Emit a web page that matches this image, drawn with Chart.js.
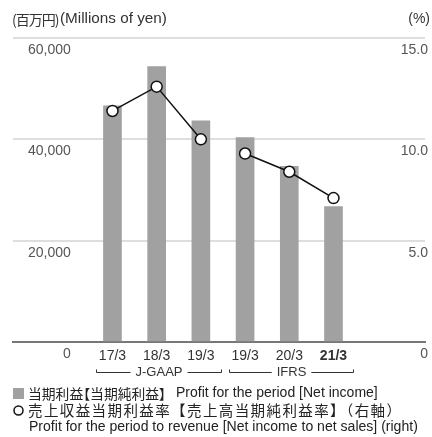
<!DOCTYPE html>
<html>
<head>
<meta charset="utf-8">
<script src="https://cdn.jsdelivr.net/npm/chart.js@4"></script>
<style>
html,body{margin:0;padding:0;background:#fff;}
#wrap{position:relative;width:432px;height:437px;overflow:hidden;}
#c{position:absolute;left:0;top:0;}
.jp{position:absolute;font-family:"Noto Sans CJK JP",sans-serif;color:#222;white-space:nowrap;line-height:20px;height:20px;}
</style>
</head>
<body>
<div id="wrap">
<canvas id="c" width="432" height="437"></canvas>
<span class="jp" style="left:12px;top:9px;font-size:14px;letter-spacing:-1px;color:#333;">(百万円)</span>
<span class="jp" style="left:28px;top:383px;font-size:13.8px;font-feature-settings:'palt';">当期利益【当期純利益】</span>
<span class="jp" style="left:28px;top:400px;font-size:14.5px;letter-spacing:1.4px;">売上収益当期利益率【売上高当期純利益率】（右軸）</span>
</div>
<script>
const categories = ["17/3", "18/3", "19/3", "19/3", "20/3", "21/3"];
const netIncome = [46600, 54350, 43650, 40350, 34650, 26750];
const incomeRatio = [11.4, 12.6, 10.0, 9.3, 8.4, 7.1];
const leftTicks = [0, 20000, 40000, 60000];
const rightTicks = [0, 5, 10, 15];
const groups = [
  {label: "J-GAAP", from: 0, to: 2},
  {label: "IFRS", from: 3, to: 5}
];

const FONT = '"Liberation Sans", "Noto Sans CJK JP", sans-serif';

function fitText(ctx, text, x, y, target, base, fam) {
  ctx.font = base + 'px ' + fam;
  const w = ctx.measureText(text).width;
  const size = Math.max(8, Math.min(20, base * target / w));
  ctx.font = size.toFixed(2) + 'px ' + fam;
  ctx.fillText(text, x, y);
}

const overlay = {
  id: 'overlay',
  afterDraw(chart) {
    const ctx = chart.ctx;
    const x = chart.scales.x;
    ctx.save();
    ctx.fillStyle = '#333';
    ctx.textBaseline = 'middle';
    ctx.textAlign = 'left';
    fitText(ctx, '(Millions of yen)', 60, 19, 107, 14, FONT);
    ctx.textAlign = 'right';
    ctx.font = '14px ' + FONT;
    ctx.fillText('(%)', 430, 19);

    // group brackets
    ctx.strokeStyle = '#333';
    ctx.lineWidth = 1;
    ctx.font = '13px ' + FONT;
    ctx.textAlign = 'center';
    const yb = 372.5;
    groups.forEach(g => {
      const x0 = Math.round(x.getPixelForValue(g.from) - 16) + 0.5;
      const x1 = Math.round(x.getPixelForValue(g.to) + 20) + 0.5;
      const mid = (x0 + x1) / 2;
      const tw = ctx.measureText(g.label).width;
      ctx.beginPath();
      ctx.moveTo(x0, yb - 3); ctx.lineTo(x0, yb); ctx.lineTo(mid - tw / 2 - 5, yb);
      ctx.moveTo(mid + tw / 2 + 5, yb); ctx.lineTo(x1, yb); ctx.lineTo(x1, yb - 3);
      ctx.stroke();
      ctx.fillText(g.label, mid, yb);
    });

    // legend markers and latin texts
    ctx.textAlign = 'left';
    ctx.fillStyle = '#a0a1a0';
    ctx.fillRect(13, 388, 11, 11);
    ctx.fillStyle = '#222';
    fitText(ctx, 'Profit for the period [Net income]', 176, 393, 202, 14, FONT);
    ctx.beginPath();
    ctx.arc(18.5, 410.5, 4.5, 0, Math.PI * 2);
    ctx.fillStyle = '#fff';
    ctx.fill();
    ctx.lineWidth = 1.5;
    ctx.strokeStyle = '#111';
    ctx.stroke();
    ctx.fillStyle = '#222';
    fitText(ctx, 'Profit for the period to revenue [Net income to net sales] (right)', 29, 427, 389, 14, FONT);
    ctx.restore();
  }
};

new Chart(document.getElementById('c'), {
  data: {
    datasets: [
      {
        type: 'line',
        label: 'ratio',
        yAxisID: 'y2',
        data: incomeRatio.map((v, i) => ({x: i, y: v})),
        borderColor: '#111',
        borderWidth: 1.5,
        pointRadius: 5.5,
        pointBackgroundColor: '#fff',
        pointBorderColor: '#111',
        pointBorderWidth: 1.5,
        tension: 0,
        segment: {
          borderColor: c => (c.p0DataIndex === 2 ? 'rgba(0,0,0,0)' : '#111')
        }
      },
      {
        type: 'bar',
        label: 'net income',
        yAxisID: 'y',
        data: netIncome.map((v, i) => ({x: i, y: v})),
        backgroundColor: '#a0a1a0',
        barThickness: 18,
        borderWidth: 0
      }
    ]
  },
  options: {
    responsive: false,
    animation: false,
    events: [],
    layout: {padding: {left: 13, right: 0, top: 38, bottom: 0}},
    plugins: {legend: {display: false}, tooltip: {enabled: false}},
    scales: {
      x: {
        type: 'linear',
        min: -2.25,
        max: 7.07,
        offset: false,
        bounds: 'data',
        afterBuildTicks: s => { s.ticks = categories.map((c, i) => ({value: i})); },
        afterFit: s => { s.height = 95; s.paddingLeft = 0; s.paddingRight = 0; },
        grid: {display: false, drawTicks: false, offset: false},
        border: {display: true, color: '#777', width: 2},
        ticks: {
          autoSkip: false,
          maxRotation: 0,
          padding: 6,
          color: '#333',
          font: c => ({family: FONT, size: 14, weight: c.index === 5 ? 'bold' : 'normal'}),
          callback: v => categories[v]
        }
      },
      y: {
        position: 'left',
        min: 0,
        max: 60000,
        afterBuildTicks: s => { s.ticks = leftTicks.map(v => ({value: v})); },
        afterFit: s => { s.width = 0; },
        grid: {
          drawTicks: false,
          color: c => (c.tick && c.tick.value === 0 ? 'rgba(0,0,0,0)' : '#dedede'),
          lineWidth: 2
        },
        border: {display: false},
        ticks: {
          mirror: true,
          crossAlign: 'far',
          padding: 15,
          labelOffset: 12,
          color: '#555',
          font: {family: FONT, size: 14},
          callback: v => v.toLocaleString('en-US')
        }
      },
      y2: {
        position: 'right',
        min: 0,
        max: 15,
        afterBuildTicks: s => { s.ticks = rightTicks.map(v => ({value: v})); },
        afterFit: s => { s.width = 0; },
        grid: {display: false, drawTicks: false},
        border: {display: false},
        ticks: {
          mirror: true,
          padding: 3,
          labelOffset: 12,
          color: '#555',
          font: {family: FONT, size: 14},
          callback: v => (v === 0 ? '0' : v.toFixed(1))
        }
      }
    }
  },
  plugins: [overlay]
});
</script>
</body>
</html>
